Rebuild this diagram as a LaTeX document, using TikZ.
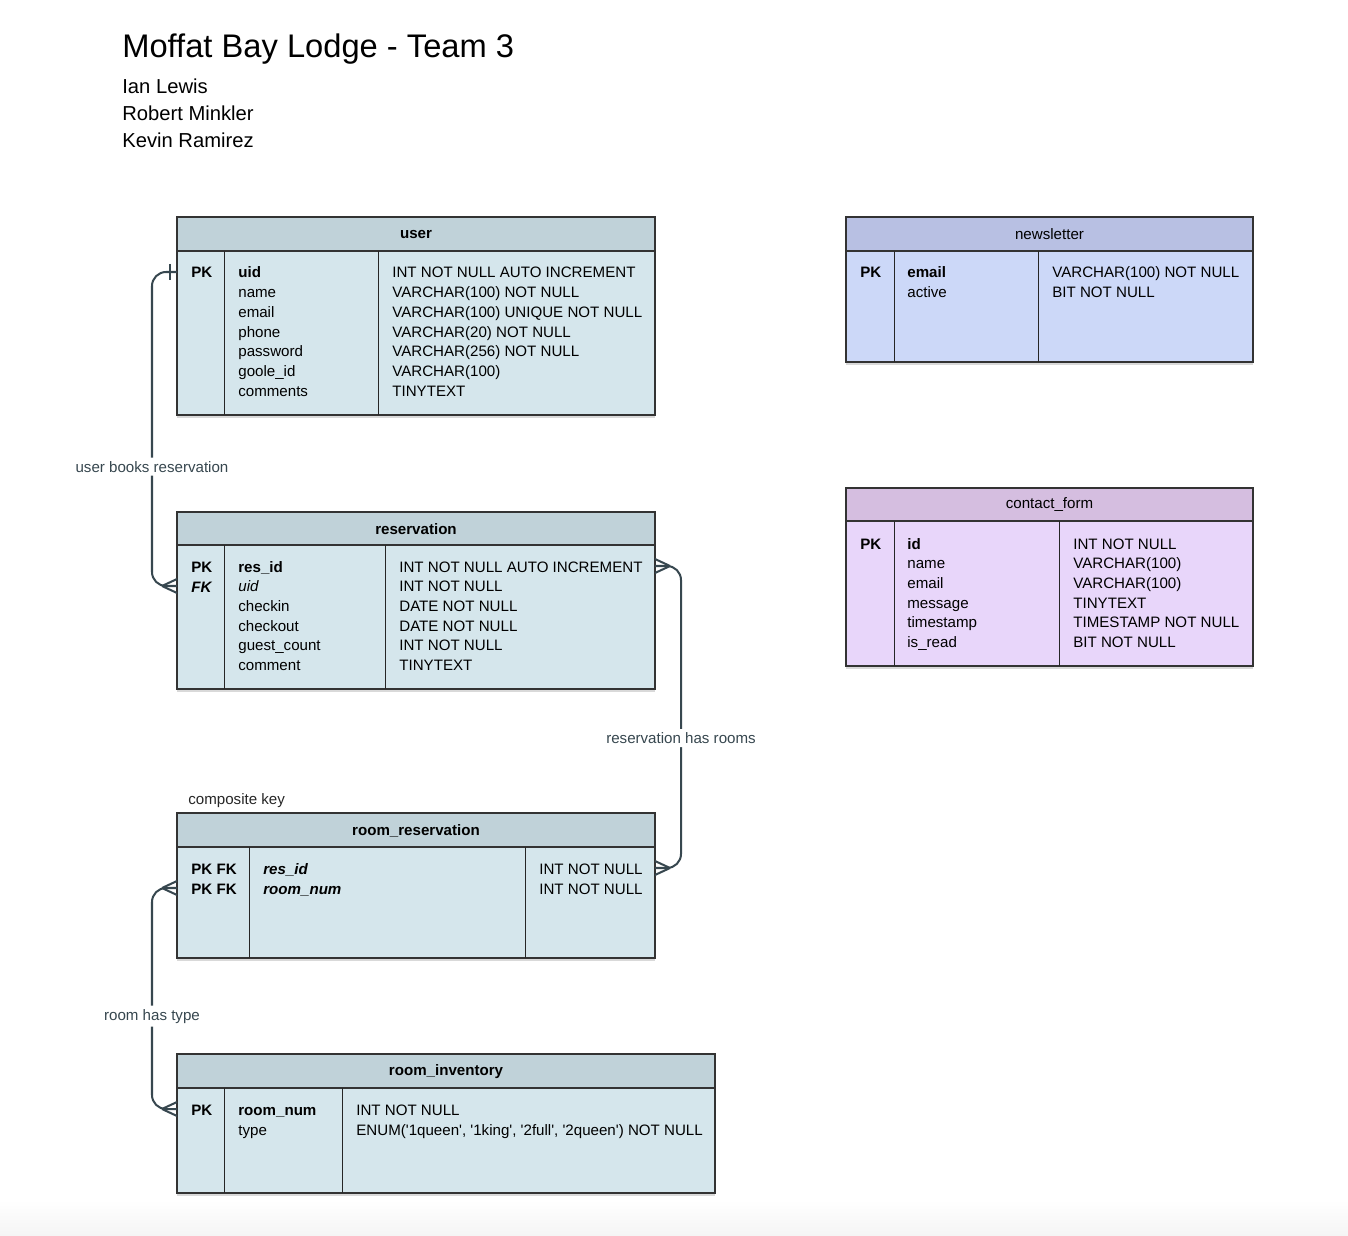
\documentclass[tikz,border=0pt]{standalone}
\usepackage{fontspec}
\setmainfont{Liberation Sans}
\usetikzlibrary{fit,shadows}

\definecolor{rmhead}{RGB}{192,210,217}
\definecolor{rmbody}{RGB}{213,230,236}
\definecolor{nlhead}{RGB}{184,192,227}
\definecolor{nlbody}{RGB}{204,216,248}
\definecolor{cfhead}{RGB}{213,190,224}
\definecolor{cfbody}{RGB}{232,214,250}
\definecolor{relc}{RGB}{55,71,79}

\tikzset{
  crow/.pic={\draw[rel] (-15,0) -- (0,-7) (-15,0) -- (0,7);},
  onebar/.pic={\draw[rel] (-7,-8) -- (-7,8);}
}

\begin{document}
\begin{tikzpicture}[x=0.02cm,y=-0.02cm,
  tabhead/.style={draw=black!80,line width=0.7pt,inner sep=0pt},
  tabbody/.style={draw=black!80,line width=0.7pt,inner sep=0pt,
    drop shadow={shadow xshift=0pt,shadow yshift=-0.06cm,opacity=0.3}},
  coldiv/.style={draw=black!85,line width=0.5pt},
  cell/.style={anchor=base west,inner sep=0pt,font=\fontsize{8.6}{10}\selectfont},
  keycell/.style={cell,font=\fontsize{8.6}{10}\selectfont\bfseries},
  hdr/.style={inner sep=0pt,font=\fontsize{8.6}{10}\selectfont\bfseries},
  hdrlight/.style={inner sep=0pt,font=\fontsize{8.6}{10}\selectfont},
  rel/.style={draw=relc,line width=1.15pt},
  rellabel/.style={fill=white,text=relc,inner sep=2pt,font=\fontsize{8.6}{10}\selectfont}]

  \useasboundingbox (0,0) rectangle (1348,1236);
  \shade[top color=white,bottom color=black!4] (0,1200) rectangle (1348,1236);

  % title block
  \node[anchor=base west,inner sep=0pt,font=\fontsize{18.6}{22}\selectfont] (title) at (122,58) {Moffat Bay Lodge - Team 3};
  \foreach \who [count=\i from 0] in {Ian Lewis,Robert Minkler,Kevin Ramirez}
    \node[anchor=base west,inner sep=0pt,font=\fontsize{11.5}{13}\selectfont] (team\i) at (122,{94+27*\i}) {\who};

  % user
  \node[tabhead,fill=rmhead,fit={(177,217) (655,251)}] (user-h) {};
  \node[hdr] (user-name) at ([yshift=-0.02cm]user-h) {user};
  \node[tabbody,fill=rmbody,fit={(177,251) (655,415)}] (user) {};
  \draw[coldiv] (224,251) -- (224,415) (378,251) -- (378,415);
  \node[keycell] (user-pk) at (191,278) {PK};
  \foreach \fld/\typ [count=\i from 0] in {\textbf{uid}/INT NOT NULL AUTO INCREMENT,
      name/VARCHAR(100) NOT NULL,email/VARCHAR(100) UNIQUE NOT NULL,
      phone/VARCHAR(20) NOT NULL,password/VARCHAR(256) NOT NULL,
      goole\_id/VARCHAR(100),comments/TINYTEXT}{
    \node[cell] (user-f\i) at (238,{278+19.7*\i}) {\fld};
    \node[cell] (user-t\i) at (392,{278+19.7*\i}) {\typ};
  }

  % reservation
  \node[tabhead,fill=rmhead,fit={(177,512) (655,545)}] (res-h) {};
  \node[hdr] (res-name) at ([yshift=-0.02cm]res-h) {reservation};
  \node[tabbody,fill=rmbody,fit={(177,545) (655,689)}] (res) {};
  \draw[coldiv] (224,545) -- (224,689) (385,545) -- (385,689);
  \node[keycell] (res-pk) at (191,572) {PK};
  \node[keycell,font=\fontsize{8.6}{10}\selectfont\bfseries\itshape] (res-fk) at (191,592) {FK};
  \foreach \fld/\typ [count=\i from 0] in {\textbf{res\_id}/INT NOT NULL AUTO INCREMENT,
      \textit{uid}/INT NOT NULL,checkin/DATE NOT NULL,checkout/DATE NOT NULL,
      guest\_count/INT NOT NULL,comment/TINYTEXT}{
    \node[cell] (res-f\i) at (238,{572+19.7*\i}) {\fld};
    \node[cell] (res-t\i) at (399,{572+19.7*\i}) {\typ};
  }

  % room_reservation
  \node[anchor=base west,inner sep=0pt,text=black!85,font=\fontsize{8.6}{10}\selectfont] (rr-note) at (188,804) {composite key};
  \node[tabhead,fill=rmhead,fit={(177,813) (655,847)}] (rr-h) {};
  \node[hdr] (rr-name) at ([yshift=-0.02cm]rr-h) {room\_reservation};
  \node[tabbody,fill=rmbody,fit={(177,847) (655,958)}] (rr) {};
  \draw[coldiv] (249,847) -- (249,958) (525,847) -- (525,958);
  \foreach \fld [count=\i from 0] in {res\_id,room\_num}{
    \node[keycell] (rr-k\i) at (191,{874+20*\i}) {PK FK};
    \node[cell,font=\fontsize{8.6}{10}\selectfont\bfseries\itshape] (rr-f\i) at (263,{874+20*\i}) {\fld};
    \node[cell] (rr-t\i) at (539,{874+20*\i}) {INT NOT NULL};
  }

  % room_inventory
  \node[tabhead,fill=rmhead,fit={(177,1054) (715,1088)}] (inv-h) {};
  \node[hdr] (inv-name) at ([yshift=-0.02cm]inv-h) {room\_inventory};
  \node[tabbody,fill=rmbody,fit={(177,1088) (715,1193)}] (inv) {};
  \draw[coldiv] (224,1088) -- (224,1193) (342,1088) -- (342,1193);
  \node[keycell] (inv-pk) at (191,1115) {PK};
  \node[keycell] (inv-f0) at (238,1115) {room\_num};
  \node[cell] (inv-t0) at (356,1115) {INT NOT NULL};
  \node[cell] (inv-f1) at (238,1135) {type};
  \node[cell] (inv-t1) at (356,1135) {ENUM(\textquotesingle 1queen\textquotesingle, \textquotesingle 1king\textquotesingle, \textquotesingle 2full\textquotesingle, \textquotesingle 2queen\textquotesingle) NOT NULL};

  % newsletter
  \node[tabhead,fill=nlhead,fit={(846,217) (1253,251)}] (nl-h) {};
  \node[hdrlight] (nl-name) at (nl-h) {newsletter};
  \node[tabbody,fill=nlbody,fit={(846,251) (1253,362)}] (nl) {};
  \draw[coldiv] (894,251) -- (894,362) (1038,251) -- (1038,362);
  \node[keycell] (nl-pk) at (860,278) {PK};
  \node[keycell] (nl-f0) at (907,278) {email};
  \node[cell] (nl-t0) at (1052,278) {VARCHAR(100) NOT NULL};
  \node[cell] (nl-f1) at (907,298) {active};
  \node[cell] (nl-t1) at (1052,298) {BIT NOT NULL};

  % contact_form
  \node[tabhead,fill=cfhead,fit={(846,488) (1253,521)}] (cf-h) {};
  \node[hdrlight] (cf-name) at (cf-h) {contact\_form};
  \node[tabbody,fill=cfbody,fit={(846,521) (1253,666)}] (cf) {};
  \draw[coldiv] (894,521) -- (894,666) (1059,521) -- (1059,666);
  \node[keycell] (cf-pk) at (860,549) {PK};
  \foreach \fld/\typ [count=\i from 0] in {\textbf{id}/INT NOT NULL,name/VARCHAR(100),
      email/VARCHAR(100),message/TINYTEXT,timestamp/TIMESTAMP NOT NULL,is\_read/BIT NOT NULL}{
    \node[cell] (cf-f\i) at (907,{549+19.7*\i}) {\fld};
    \node[cell] (cf-t\i) at (1073,{549+19.7*\i}) {\typ};
  }

  % relationship ends
  \coordinate (user-uid) at (177,272);
  \coordinate (res-uid) at (177,586);
  \coordinate (res-id) at (655,566);
  \coordinate (rr-resid) at (655,868);
  \coordinate (rr-roomnum) at (177,888);
  \coordinate (inv-roomnum) at (177,1109);

  \draw[rel,rounded corners=8] (user-uid) -- ++(-25,0)
    |- node[rellabel,pos=0.31] {user books reservation} (res-uid);
  \draw[rel,rounded corners=8] (res-id) -- ++(26,0)
    |- node[rellabel,pos=0.285] {reservation has rooms} (rr-resid);
  \draw[rel,rounded corners=8] (rr-roomnum) -- ++(-25,0)
    |- node[rellabel,pos=0.29] {room has type} (inv-roomnum);

  \pic at (user-uid) {onebar};
  \pic at (res-uid) {crow};
  \pic[xscale=-1] at (res-id) {crow};
  \pic[xscale=-1] at (rr-resid) {crow};
  \pic at (rr-roomnum) {crow};
  \pic at (inv-roomnum) {crow};
\end{tikzpicture}
\end{document}
